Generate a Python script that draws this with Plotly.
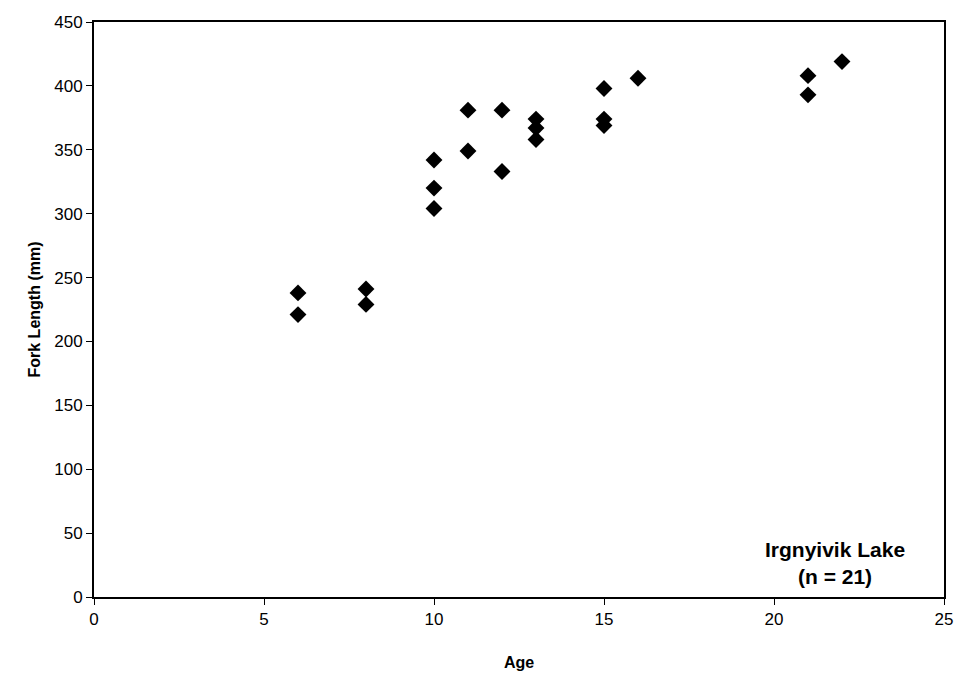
import plotly.graph_objects as go

age = [6, 6, 8, 8, 10, 10, 10, 11, 11, 12, 12, 13, 13, 13, 15, 15, 15, 16, 21, 21, 22]
fork_length = [238, 221, 241, 229, 342, 320, 304, 381, 349, 381, 333, 374, 367, 358, 398, 374, 369, 406, 408, 393, 419]

fig = go.Figure()
fig.add_trace(go.Scatter(
    x=age, y=fork_length, mode="markers",
    marker=dict(symbol="diamond", size=13, color="black"),
    showlegend=False,
))

font = "Arial, Liberation Sans, sans-serif"
fig.update_layout(
    width=964, height=686,
    margin=dict(l=94, r=11, t=22, b=89),
    plot_bgcolor="white", paper_bgcolor="white",
    font=dict(family=font, color="black", size=15),
    xaxis=dict(
        range=[0, 25], tick0=0, dtick=5, showgrid=False, zeroline=False,
        showline=True, linecolor="black", linewidth=2, mirror=True,
        ticks="outside", ticklen=6, tickcolor="black",
        tickfont=dict(size=17),
        title=dict(text="<b>Age</b>", font=dict(size=16), standoff=28),
    ),
    yaxis=dict(
        range=[0, 450], tick0=0, dtick=50, showgrid=False, zeroline=False,
        showline=True, linecolor="black", linewidth=2, mirror=True,
        ticks="outside", ticklen=6, tickcolor="black",
        tickfont=dict(size=17),
        title=dict(text="<b>Fork Length (mm)</b>", font=dict(size=16), standoff=10),
    ),
    annotations=[dict(
        x=0.872, y=0.06, xref="paper", yref="paper",
        text="<b>Irgnyivik Lake<br>(n = 21)</b>", showarrow=False,
        font=dict(size=21, family=font), align="center",
        xanchor="center", yanchor="middle",
    )],
)

fig.write_html("out.html")
